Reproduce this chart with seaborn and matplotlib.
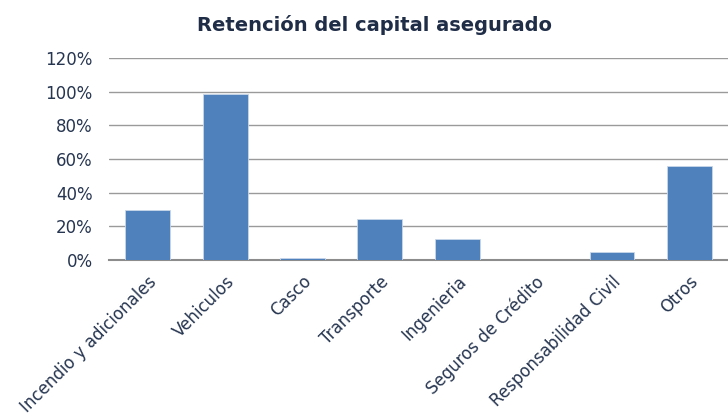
import matplotlib
matplotlib.use("Agg")
import matplotlib.pyplot as plt
import pandas as pd
import seaborn as sns
from matplotlib.ticker import PercentFormatter

# values (percent retained)
categories = [
    "Incendio y adicionales", "Vehiculos", "Casco", "Transporte",
    "Ingenieria", "Seguros de Crédito", "Responsabilidad Civil", "Otros",
]
retention = [29.8, 98.6, 1.0, 24.6, 12.4, 0.0, 4.7, 55.7]
y_ticks = [0, 20, 40, 60, 80, 100, 120]

df = pd.DataFrame({"Ramo": categories, "Retencion": retention})

sns.set_style("white")
plt.rcParams["font.family"] = ["DejaVu Sans"]

text_col = "#263550"
fig = plt.figure(figsize=(7.28, 4.16), dpi=100)
ax = fig.add_axes([0.15, 0.375, 0.85, 0.486])

sns.barplot(data=df, x="Ramo", y="Retencion", color="#4f81bd", saturation=1,
            width=0.58, ax=ax, zorder=3, edgecolor="#c8d6ea", linewidth=0.6)

ax.set_ylim(0, 120)
ax.set_yticks(y_ticks)
ax.yaxis.set_major_formatter(PercentFormatter(decimals=0))
ax.grid(axis="y", color="#9a9a9a", linewidth=1, zorder=0)
ax.set_xlim(-0.5, len(categories) - 0.5)

for s in ["top", "right", "left"]:
    ax.spines[s].set_visible(False)
ax.spines["bottom"].set_color("#8c8c8c")
ax.spines["bottom"].set_linewidth(1.5)
ax.spines["bottom"].set_zorder(2)

ax.set_xlabel("")
ax.set_ylabel("")
ax.tick_params(axis="both", length=0, labelsize=12, colors=text_col)
ax.tick_params(axis="y", pad=12)
plt.setp(ax.get_xticklabels(), rotation=45, ha="right", rotation_mode="anchor")
ax.tick_params(axis="x", pad=9)

fig.suptitle("Retención del capital asegurado", x=0.515, y=0.965,
             fontsize=14, fontweight="bold", color="#1f2d47")

fig.savefig("out.png", dpi=100)
